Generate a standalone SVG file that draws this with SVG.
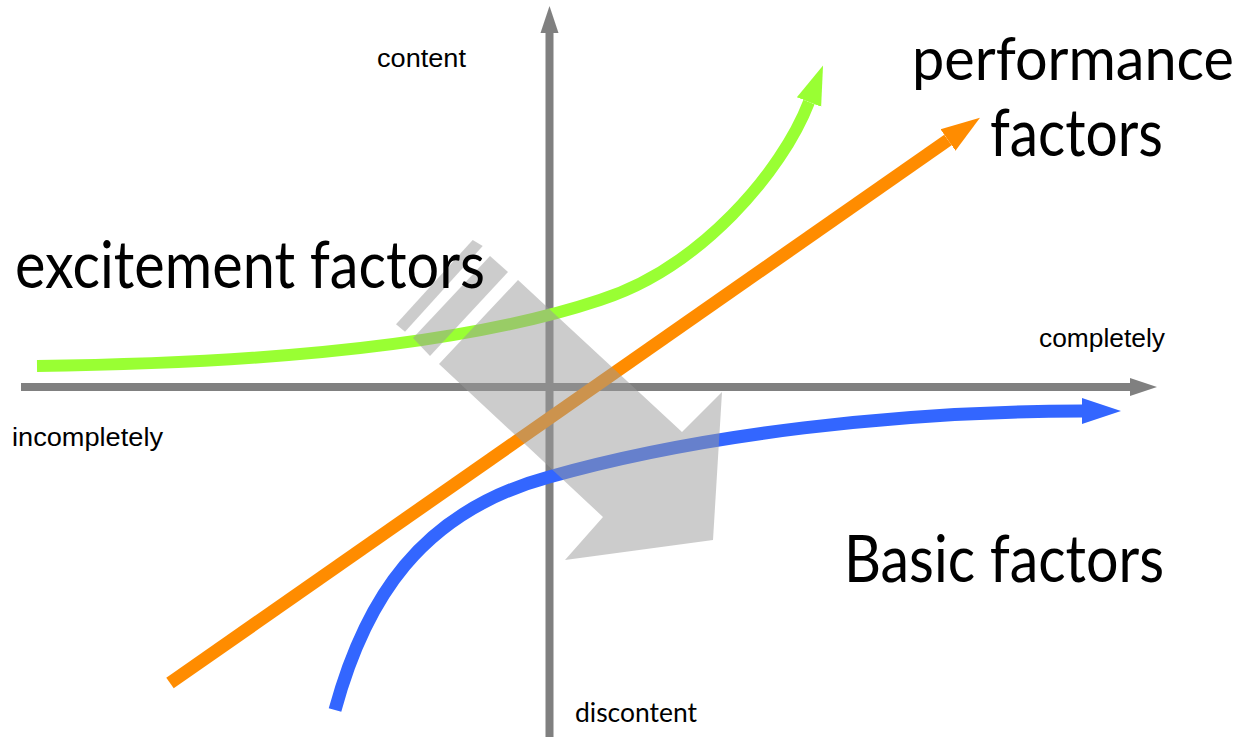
<svg xmlns="http://www.w3.org/2000/svg" width="1248" height="737" viewBox="0 0 1248 737">
  <style>
    .axis { stroke: #808080; stroke-width: 8; fill: none; }
    .curve { fill: none; stroke-linecap: butt; }
    .small { font-family: "Liberation Sans", Arial, sans-serif; font-size: 26px; fill: #000; }
    .smallh { font-family: Lato, "Open Sans", sans-serif; font-size: 27px; fill: #000; }
    .big { font-family: Lato, "Open Sans", sans-serif; font-size: 66px; fill: #000; }
    .big.perf { font-size: 60px; }
    .shade { fill: #999999; fill-opacity: 0.5; }
  </style>
  <defs>
    <marker id="ah-gray" markerUnits="userSpaceOnUse" viewBox="0 -10 28 20" refX="0" refY="0" markerWidth="28" markerHeight="20" orient="auto">
      <path d="M0,-9 L27,0 L0,9 z" fill="#808080"/>
    </marker>
    <marker id="ah-green" markerUnits="userSpaceOnUse" viewBox="0 -14 40 28" refX="0" refY="0" markerWidth="40" markerHeight="28" orient="auto">
      <path d="M0,-13 L39,0 L0,13 z" fill="#99ff33"/>
    </marker>
    <marker id="ah-orange" markerUnits="userSpaceOnUse" viewBox="0 -14 40 28" refX="0" refY="0" markerWidth="40" markerHeight="28" orient="auto">
      <path d="M0,-13 L39,0 L0,13 z" fill="#ff8c00"/>
    </marker>
    <marker id="ah-blue" markerUnits="userSpaceOnUse" viewBox="0 -14 40 28" refX="0" refY="0" markerWidth="40" markerHeight="28" orient="auto">
      <path d="M0,-13 L39,0 L0,13 z" fill="#3366ff"/>
    </marker>
  </defs>
  <rect width="1248" height="737" fill="#ffffff"/>

  <g id="connectors">
    <line id="x-axis" class="axis" x1="21" y1="387" x2="1130" y2="387" marker-end="url(#ah-gray)"/>
    <line id="y-axis" class="axis" x1="549.5" y1="737" x2="549.5" y2="33" marker-end="url(#ah-gray)"/>
    <path id="excitement-curve" class="curve" stroke="#99ff33" stroke-width="12" d="M37,366 C300,363 480,340 600,300 C700,268 782,172 809,102" marker-end="url(#ah-green)"/>
    <path id="performance-line" class="curve" stroke="#ff8c00" stroke-width="13" d="M170,683 L948,140" marker-end="url(#ah-orange)"/>
    <path id="basic-curve" class="curve" stroke="#3366ff" stroke-width="13" d="M335,710 C365,600 420,512 549,477 C700,434 900,411 1082,411" marker-end="url(#ah-blue)"/>
  </g>

  <g id="shift-arrow">
    <polygon class="shade" points="472.7,240 482.7,246 405,331.7 396,324.3"/>
    <polygon class="shade" points="490,256 508,272 430,356 413,338"/>
    <polygon class="shade" points="518,280 682,432 722,392 713,540 565,560 603,517 439,364"/>
  </g>

  <g id="label-content"><text class="small" x="377" y="67" textLength="89" lengthAdjust="spacingAndGlyphs">content</text></g>
  <g id="label-discontent"><text class="smallh" x="575" y="722" textLength="122" lengthAdjust="spacingAndGlyphs">discontent</text></g>
  <g id="label-completely"><text class="small" x="1039" y="347" textLength="126" lengthAdjust="spacingAndGlyphs">completely</text></g>
  <g id="label-incompletely"><text class="small" x="12" y="446" textLength="151" lengthAdjust="spacingAndGlyphs">incompletely</text></g>

  <g id="excitement-factors"><text class="big" x="15" y="288" textLength="470" lengthAdjust="spacingAndGlyphs">excitement factors</text></g>
  <g id="performance-factors">
    <text class="big perf" x="912" y="80" textLength="322" lengthAdjust="spacingAndGlyphs">performance</text>
    <text class="big" x="990" y="156" textLength="173" lengthAdjust="spacingAndGlyphs">factors</text>
  </g>
  <g id="basic-factors"><text class="big" x="844" y="582" textLength="320" lengthAdjust="spacingAndGlyphs">Basic factors</text></g>
</svg>
